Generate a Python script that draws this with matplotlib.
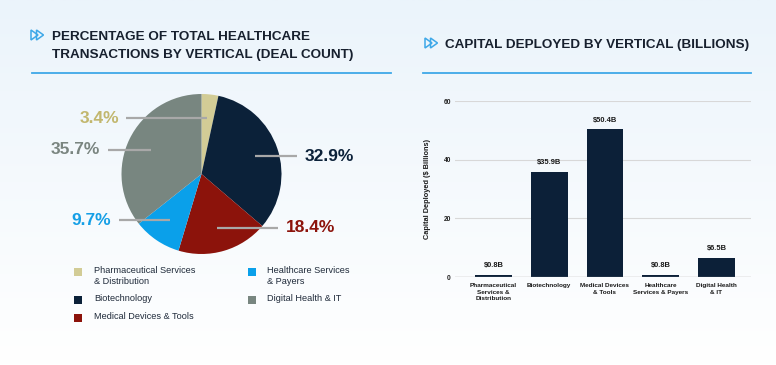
import numpy as np
import matplotlib
matplotlib.use("Agg")
import matplotlib.pyplot as plt
from matplotlib.patches import Polygon, Rectangle
from matplotlib.colors import LinearSegmentedColormap
from matplotlib.lines import Line2D

# ---------------- data ----------------
pie_labels = ["Pharmaceutical Services\n& Distribution", "Biotechnology",
              "Medical Devices & Tools", "Healthcare Services\n& Payers",
              "Digital Health & IT"]
pie_values = [3.4, 32.9, 18.4, 9.7, 35.7]
pie_colors = ["#d2cc96", "#0b2139", "#8c130b", "#0aa0ea", "#788680"]
pie_text_colors = ["#c2b76e", "#0b2139", "#8c130b", "#159fe6", "#7a8580"]

bar_categories = ["Pharmaceutical\nServices &\nDistribution", "Biotechnology",
                  "Medical Devices\n& Tools", "Healthcare\nServices & Payers",
                  "Digital Health\n& IT"]
bar_values = [0.8, 35.9, 50.4, 0.8, 6.5]
bar_labels = ["$0.8B", "$35.9B", "$50.4B", "$0.8B", "$6.5B"]
y_ticks = [0, 20, 40, 60]

left_title = ["PERCENTAGE OF TOTAL HEALTHCARE", "TRANSACTIONS BY VERTICAL (DEAL COUNT)"]
right_title = "CAPITAL DEPLOYED BY VERTICAL (BILLIONS)"

# ---------------- figure ----------------
W, H = 776, 365
plt.rcParams['font.family'] = ['Liberation Sans', 'DejaVu Sans']
fig = plt.figure(figsize=(W / 100, H / 100), dpi=100)

def fx(x):
    return x / W

def fy(y):
    return 1 - y / H

# background gradient
bg = fig.add_axes([0, 0, 1, 1], zorder=-10)
cmap = LinearSegmentedColormap.from_list("bg", ["#ebf4fb", "#ffffff"])
grad = np.linspace(0, 1, 256).reshape(-1, 1)
bg.imshow(grad, aspect="auto", cmap=cmap, extent=[0, 1, 0, 1], origin="upper")
bg.set_xlim(0, 1)
bg.set_ylim(0, 1)
bg.axis("off")

title_color = "#17202e"
accent = "#3ea8e8"

def icon(x, y):
    # double outlined play triangles
    for dx in (0, 5.5):
        pts = [(x + dx, y - 5), (x + dx, y + 5), (x + dx + 7, y)]
        fig.patches.append(Polygon([(fx(px), fy(py)) for px, py in pts], closed=True,
                                   fill=False, edgecolor=accent, linewidth=1.1,
                                   transform=fig.transFigure, figure=fig))

icon(31, 35)
icon(425, 43)

for line, base in zip(left_title, (40, 58)):
    fig.text(fx(52), fy(base), line, fontsize=9.7, fontweight="bold", color=title_color,
             va="baseline", ha="left")
fig.text(fx(445), fy(48), right_title, fontsize=9.7, fontweight="bold", color=title_color,
         va="baseline", ha="left")

fig.add_artist(Line2D([fx(32), fx(391)], [fy(73), fy(73)], color=accent, lw=1.3,
                      transform=fig.transFigure))
fig.add_artist(Line2D([fx(423), fx(751)], [fy(73), fy(73)], color=accent, lw=1.3,
                      transform=fig.transFigure))

# ---------------- pie ----------------
ax_pie = fig.add_axes([fx(81.5), fy(294), 240 / W, 240 / H])
wedges, _ = ax_pie.pie(pie_values, colors=pie_colors, startangle=90, counterclock=False,
                       radius=1, wedgeprops=dict(linewidth=0))
ax_pie.set_xlim(-1.5, 1.5)
ax_pie.set_ylim(-1.5, 1.5)
ax_pie.axis("off")

for w, v, tc in zip(wedges, pie_values, pie_text_colors):
    mid = np.deg2rad((w.theta1 + w.theta2) / 2)
    x0, y0 = 0.7 * np.cos(mid), 0.7 * np.sin(mid)
    edge = np.sqrt(max(0.0, 1 - y0 ** 2))
    side = 1 if np.cos(mid) > 0.2 else -1
    x1 = side * (edge + 0.22)
    ax_pie.plot([x0, x1], [y0, y0], color="#a8a8a8", lw=1.6, solid_capstyle="butt", zorder=5)
    ax_pie.text(x1 + side * 0.09, y0, f"{v}%", ha="left" if side > 0 else "right",
                va="center", fontsize=12.5, fontweight="bold", color=tc)

# legend (manual)
legend_text_color = "#1f2a3a"
col_x = [(74, 94), (248, 267)]
columns = [[0, 1, 2], [3, 4]]
for (sq_x, tx_x), idxs in zip(col_x, columns):
    y = 271.5
    for i in idxs:
        fig.patches.append(Rectangle((fx(sq_x), fy(y + 4)), 8 / W, 8 / H,
                                     facecolor=pie_colors[i], edgecolor="none",
                                     transform=fig.transFigure, figure=fig))
        fig.text(fx(tx_x), fy(y - 5.3), pie_labels[i], fontsize=6.6, color=legend_text_color,
                 va="top", ha="left", linespacing=1.2)
        nlines = pie_labels[i].count("\n") + 1
        y += 18 + 10 * (nlines - 1)

# ---------------- bars ----------------
ax_bar = fig.add_axes([fx(455), fy(277), 296 / W, 176 / H])
x = np.arange(len(bar_values))
ax_bar.bar(x, bar_values, width=0.66, color="#0c2038", zorder=3)
ax_bar.set_xlim(-0.69, 4.62)
ax_bar.set_ylim(0, 60)
ax_bar.set_yticks(y_ticks)
ax_bar.set_yticklabels([str(t) for t in y_ticks], fontsize=4.8, fontweight="bold", color="#222222")
ax_bar.set_xticks(x)
ax_bar.set_xticklabels(bar_categories, fontsize=4.6, fontweight="bold", color="#1a1a1a",
                       linespacing=1.35)
ax_bar.tick_params(axis="both", length=0)
ax_bar.tick_params(axis="y", pad=3)
ax_bar.tick_params(axis="x", pad=4.5)
for s in ax_bar.spines.values():
    s.set_visible(False)
ax_bar.set_facecolor("none")
ax_bar.grid(axis="y", color="#d8d8d8", lw=0.8, zorder=0)
ax_bar.axhline(0, color="#9a9a9a", lw=0.9, zorder=4)
ax_bar.set_ylabel("Capital Deployed ($ Billions)", fontsize=5.3, fontweight="bold",
                  color="#1a1a1a", labelpad=9)
for xi, v, lab in zip(x, bar_values, bar_labels):
    ax_bar.annotate(lab, (xi, v), xytext=(0, 4), textcoords="offset points",
                    ha="center", va="bottom", fontsize=5.4, fontweight="bold", color="#1a1a1a")

fig.savefig("out.png", dpi=100)
